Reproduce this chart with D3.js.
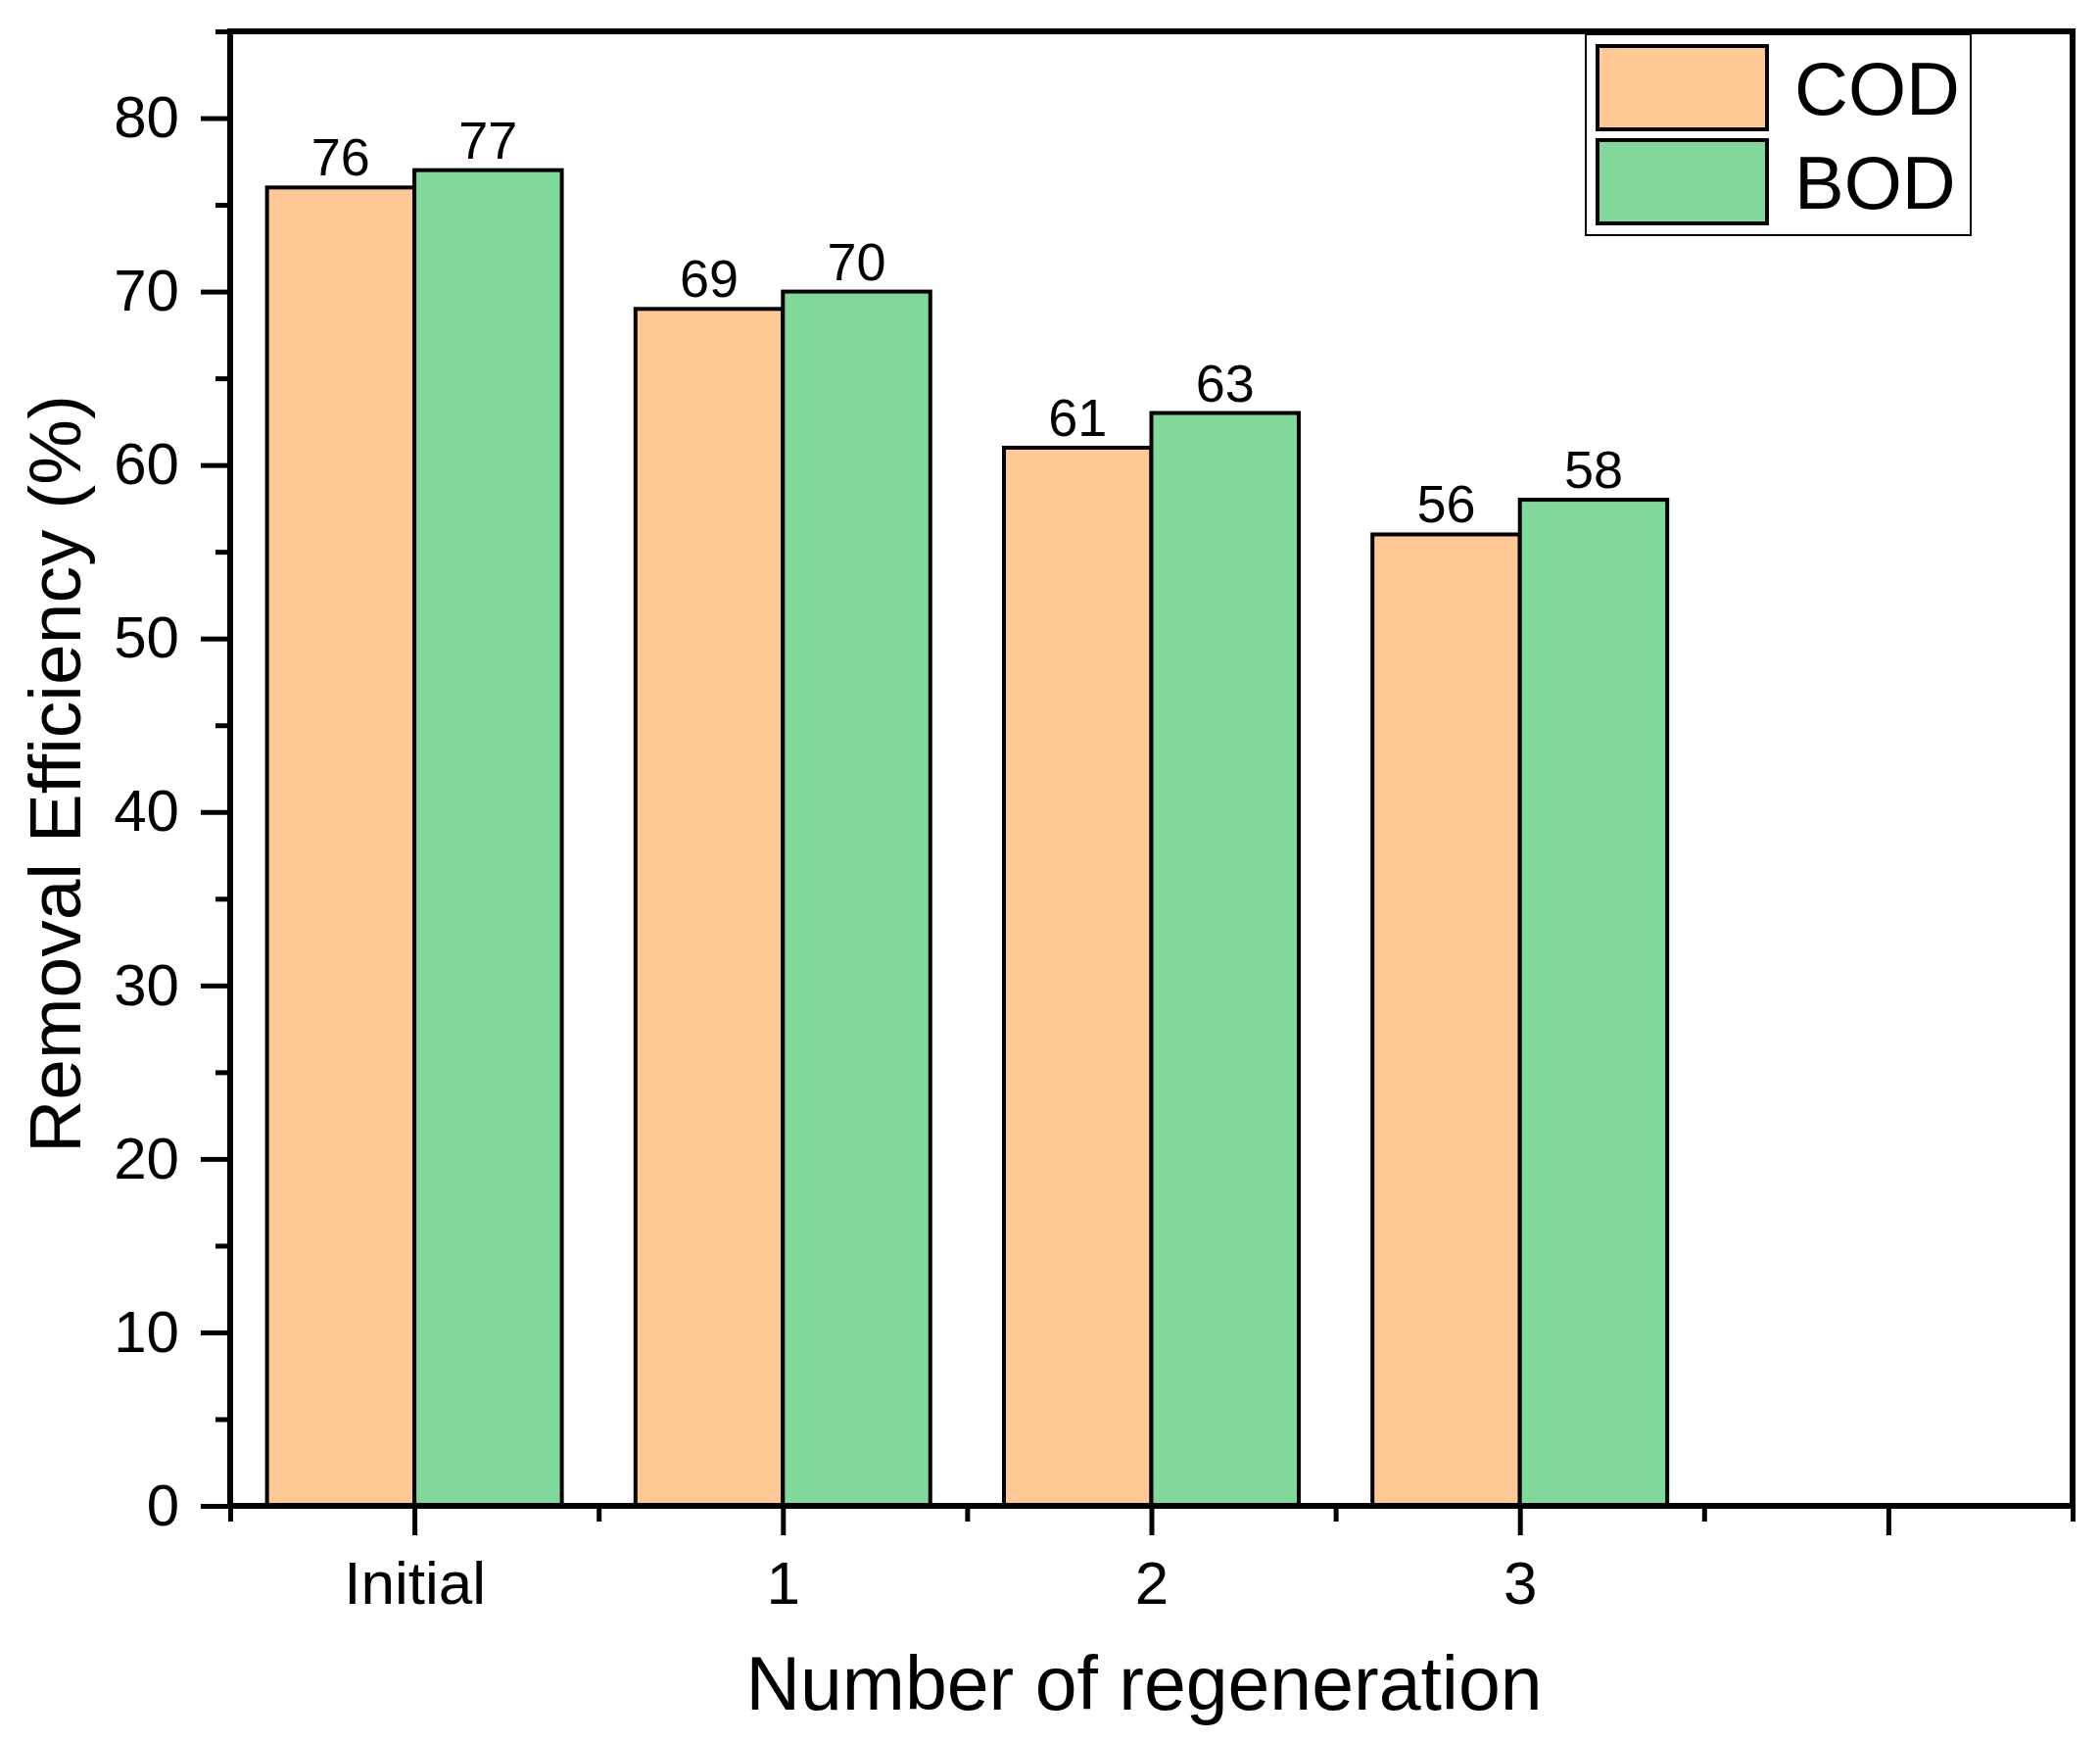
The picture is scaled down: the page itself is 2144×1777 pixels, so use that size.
<!DOCTYPE html>
<html>
<head>
<meta charset="utf-8">
<script src="https://cdn.jsdelivr.net/npm/d3@7"></script>
<style>
  body { margin: 0; background: #fff; }
  svg { display: block; font-family: "Liberation Sans", Arial, sans-serif; }
</style>
</head>
<body>
<svg id="chart"></svg>
<script>
// data
var categories = ['Initial', '1', '2', '3', '']
var series = ['COD', 'BOD']
var codValues = [76, 69, 61, 56]
var bodValues = [77, 70, 63, 58]
var colors = ['#FFC996', '#80D89A']
var yMajor = [0, 10, 20, 30, 40, 50, 60, 70, 80]
var yMinor = [5, 15, 25, 35, 45, 55, 65, 75, 85]

var W = 2144, H = 1777
var plotL = 235, plotR = 2116, plotT = 32, plotB = 1537

var svg = d3.select('#chart').attr('width', W).attr('height', H)

var x = d3.scaleLinear().domain([0.5, categories.length + 0.5]).range([plotL, plotR])
var y = d3.scaleLinear().domain([0, 85]).range([plotB, plotT])
var slot = x(2) - x(1)
var barW = slot * 0.4

// bars
var bars = []
codValues.forEach(function (v, i) { bars.push({ i: i, s: 0, v: v }) })
bodValues.forEach(function (v, i) { bars.push({ i: i, s: 1, v: v }) })

var g = svg.append('g')

g.selectAll('rect.bar')
  .data(bars)
  .enter().append('rect')
    .attr('class', 'bar')
    .attr('x', function (d) { return x(d.i + 1) - barW + d.s * barW })
    .attr('y', function (d) { return y(d.v) })
    .attr('width', barW)
    .attr('height', function (d) { return y(0) - y(d.v) })
    .attr('fill', function (d) { return colors[d.s] })
    .attr('stroke', '#000')
    .attr('stroke-width', 4)

g.selectAll('text.val')
  .data(bars)
  .enter().append('text')
    .attr('class', 'val')
    .attr('x', function (d) { return x(d.i + 1) - barW / 2 + d.s * barW })
    .attr('y', function (d) { return y(d.v) - 12 })
    .attr('text-anchor', 'middle')
    .attr('font-size', 54)
    .text(function (d) { return d.v })

// axes
function styleAxis(sel) {
  sel.select('.domain').remove()
  sel.selectAll('.tick line').attr('stroke', '#000').attr('stroke-width', 5)
  sel.selectAll('.tick text').attr('fill', '#000').style('font-family', '"Liberation Sans", Arial, sans-serif')
}

var yAxis = svg.append('g').attr('transform', 'translate(' + plotL + ',0)')
  .call(d3.axisLeft(y).tickValues(yMajor).tickSize(30).tickPadding(20))
  .attr('font-size', 60)
styleAxis(yAxis)
yAxis.selectAll('.tick text').attr('x', -52)

var yMinorAxis = svg.append('g').attr('transform', 'translate(' + plotL + ',0)')
  .call(d3.axisLeft(y).tickValues(yMinor).tickSize(15).tickFormat(''))
styleAxis(yMinorAxis)

var xAxis = svg.append('g').attr('transform', 'translate(0,' + plotB + ')')
  .call(d3.axisBottom(x).tickValues(d3.range(1, categories.length + 1)).tickSize(30)
    .tickFormat(function (d) { return categories[d - 1] }))
  .attr('font-size', 62)
styleAxis(xAxis)
xAxis.selectAll('.tick text').attr('y', 100).attr('dy', 0)

var xMinorAxis = svg.append('g').attr('transform', 'translate(0,' + plotB + ')')
  .call(d3.axisBottom(x).tickValues(d3.range(0.5, categories.length + 1, 1)).tickSize(16).tickFormat(''))
styleAxis(xMinorAxis)

// frame
svg.append('rect')
  .attr('x', plotL).attr('y', plotT)
  .attr('width', plotR - plotL).attr('height', plotB - plotT)
  .attr('fill', 'none').attr('stroke', '#000').attr('stroke-width', 6)

// axis titles
svg.append('text')
  .attr('x', 1168).attr('y', 1745)
  .attr('text-anchor', 'middle')
  .attr('font-size', 77)
  .text('Number of regeneration')

svg.append('text')
  .attr('transform', 'translate(82,790) rotate(-90)')
  .attr('text-anchor', 'middle')
  .attr('font-size', 75)
  .text('Removal Efficiency (%)')

// legend
var lg = svg.append('g')
lg.append('rect')
  .attr('x', 1619).attr('y', 35).attr('width', 393).attr('height', 205)
  .attr('fill', '#fff').attr('stroke', '#000').attr('stroke-width', 2)

var items = lg.selectAll('g.item')
  .data(series)
  .enter().append('g')
    .attr('class', 'item')
    .attr('transform', function (d, i) { return 'translate(0,' + (i * 96) + ')' })

items.append('rect')
  .attr('x', 1631).attr('y', 47).attr('width', 173).attr('height', 85)
  .attr('fill', function (d, i) { return colors[i] })
  .attr('stroke', '#000').attr('stroke-width', 4)

items.append('text')
  .attr('x', 1832).attr('y', 117)
  .attr('font-size', 76)
  .text(function (d) { return d })

// redraw top frame line over legend
svg.append('line')
  .attr('x1', plotL).attr('x2', plotR).attr('y1', plotT).attr('y2', plotT)
  .attr('stroke', '#000').attr('stroke-width', 6)
</script>
</body>
</html>
